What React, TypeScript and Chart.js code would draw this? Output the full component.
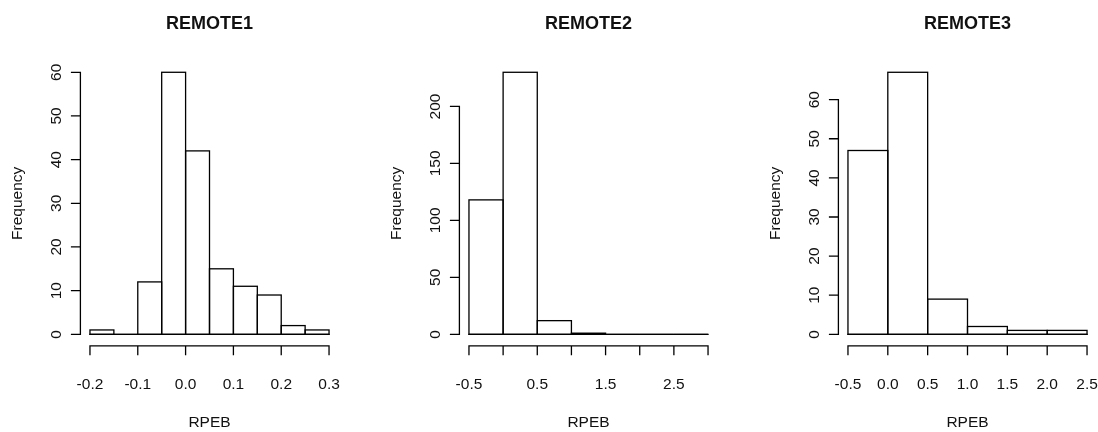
import { useEffect, useRef } from "react";
import { Chart, registerables } from "chart.js";

Chart.register(...registerables);

// REMOTE1 histogram
const remote1Breaks = [-0.2, -0.15, -0.1, -0.05, 0, 0.05, 0.1, 0.15, 0.2, 0.25, 0.3];
const remote1Counts = [1, 0, 12, 60, 42, 15, 11, 9, 2, 1];
const remote1XTicks = [-0.2, -0.1, 0, 0.1, 0.2, 0.3];
const remote1XLabels = ["-0.2", "-0.1", "0.0", "0.1", "0.2", "0.3"];
const remote1YTicks = [0, 10, 20, 30, 40, 50, 60];

// REMOTE2 histogram
const remote2Breaks = [-0.5, 0, 0.5, 1, 1.5, 2, 2.5, 3];
const remote2Counts = [118, 230, 12, 1, 0, 0, 0];
const remote2XTicks = [-0.5, 0, 0.5, 1, 1.5, 2, 2.5, 3];
const remote2XLabels = ["-0.5", "", "0.5", "", "1.5", "", "2.5", ""];
const remote2YTicks = [0, 50, 100, 150, 200];

// REMOTE3 histogram
const remote3Breaks = [-0.5, 0, 0.5, 1, 1.5, 2, 2.5];
const remote3Counts = [47, 67, 9, 2, 1, 1];
const remote3XTicks = [-0.5, 0, 0.5, 1, 1.5, 2, 2.5];
const remote3XLabels = ["-0.5", "0.0", "0.5", "1.0", "1.5", "2.0", "2.5"];
const remote3YTicks = [0, 10, 20, 30, 40, 50, 60];

const xAxisTitle = "RPEB";
const yAxisTitle = "Frequency";

type Panel = {
  title: string;
  breaks: number[];
  counts: number[];
  xTicks: number[];
  xLabels: string[];
  yTicks: number[];
};

const panels: Panel[] = [
  { title: "REMOTE1", breaks: remote1Breaks, counts: remote1Counts, xTicks: remote1XTicks, xLabels: remote1XLabels, yTicks: remote1YTicks },
  { title: "REMOTE2", breaks: remote2Breaks, counts: remote2Counts, xTicks: remote2XTicks, xLabels: remote2XLabels, yTicks: remote2YTicks },
  { title: "REMOTE3", breaks: remote3Breaks, counts: remote3Counts, xTicks: remote3XTicks, xLabels: remote3XLabels, yTicks: remote3YTicks },
];

// figure region of each panel and the margins around its plot region
const FIG_W = 379;
const FIG_H = 432;
const MARGIN = { left: 80.4, right: 40.4, top: 61.8, bottom: 87.2 };
const TICK_LEN = 9.5;
const LINE_W = 1.3;
const FONT = "'Liberation Sans', Arial, Helvetica, sans-serif";
const TEXT_SIZE = 15.5;
const CAP = 0.72;
const INK = "#111";

// base-graphics style: outlined bins with shared edges, axes spanning first..last tick,
// y labels rotated parallel to the axis
function baseAxes(panel: Panel) {
  return {
    id: "baseAxes",
    afterDatasetsDraw(chart: Chart) {
      const { ctx, chartArea: a } = chart;
      const xs = chart.scales.x;
      const ys = chart.scales.y;
      ctx.save();
      ctx.strokeStyle = "#000";
      ctx.lineWidth = LINE_W;
      ctx.lineCap = "butt";
      ctx.lineJoin = "miter";

      // bin outlines, stroked centred on each bar element's edges
      const meta = chart.getDatasetMeta(0);
      meta.data.forEach((el: any) => {
        const { x, y, base, width } = el.getProps(["x", "y", "base", "width"], true);
        ctx.strokeRect(x - width / 2, y, width, base - y);
      });

      // baseline under the bars (empty bins show as a flat line)
      const y0 = ys.getPixelForValue(0);
      ctx.beginPath();
      ctx.moveTo(xs.getPixelForValue(panel.breaks[0]) - LINE_W / 2, y0);
      ctx.lineTo(xs.getPixelForValue(panel.breaks[panel.breaks.length - 1]) + LINE_W / 2, y0);
      ctx.stroke();

      // x axis
      const ax = a.bottom + 1;
      ctx.beginPath();
      ctx.moveTo(xs.getPixelForValue(panel.xTicks[0]) - LINE_W / 2, ax);
      ctx.lineTo(xs.getPixelForValue(panel.xTicks[panel.xTicks.length - 1]) + LINE_W / 2, ax);
      panel.xTicks.forEach((t) => {
        const px = xs.getPixelForValue(t);
        ctx.moveTo(px, ax);
        ctx.lineTo(px, ax + TICK_LEN);
      });
      ctx.stroke();

      ctx.fillStyle = INK;
      ctx.font = `${TEXT_SIZE}px ${FONT}`;
      ctx.textAlign = "center";
      ctx.textBaseline = "alphabetic";
      panel.xTicks.forEach((t, i) => {
        const lab = panel.xLabels[i];
        if (!lab) return;
        ctx.fillText(lab, xs.getPixelForValue(t), ax + 38 + (CAP * TEXT_SIZE) / 2);
      });

      // y axis
      const ay = a.left;
      ctx.beginPath();
      ctx.moveTo(ay, ys.getPixelForValue(panel.yTicks[0]) + LINE_W / 2);
      ctx.lineTo(ay, ys.getPixelForValue(panel.yTicks[panel.yTicks.length - 1]) - LINE_W / 2);
      panel.yTicks.forEach((t) => {
        const py = ys.getPixelForValue(t);
        ctx.moveTo(ay, py);
        ctx.lineTo(ay - TICK_LEN, py);
      });
      ctx.stroke();

      panel.yTicks.forEach((t) => {
        ctx.save();
        ctx.translate(ay - 25 + (CAP * TEXT_SIZE) / 2, ys.getPixelForValue(t));
        ctx.rotate(-Math.PI / 2);
        ctx.fillText(String(t), 0, 0);
        ctx.restore();
      });

      // axis titles
      ctx.fillText(xAxisTitle, (a.left + a.right) / 2, 421 + (CAP * TEXT_SIZE) / 2);
      ctx.save();
      ctx.translate(ay - 62 + 4, (a.top + a.bottom) / 2);
      ctx.rotate(-Math.PI / 2);
      ctx.fillText(yAxisTitle, 0, 0);
      ctx.restore();

      // main title
      ctx.font = `bold 18px ${FONT}`;
      ctx.fillText(panel.title, (a.left + a.right) / 2, 22.5 + (CAP * 18) / 2);
      ctx.restore();
    },
  };
}

function HistPanel({ panel, left }: { panel: Panel; left: number }) {
  const ref = useRef<HTMLCanvasElement>(null);

  useEffect(() => {
    const canvas = ref.current;
    if (!canvas) return;
    const { breaks, counts } = panel;
    const span = breaks[breaks.length - 1] - breaks[0];
    const peak = Math.max(...counts);
    const chart = new Chart(canvas, {
      type: "bar",
      data: {
        datasets: [
          {
            data: counts.map((c, i) => ({ x: (breaks[i] + breaks[i + 1]) / 2, y: c })),
            backgroundColor: "#fff",
            borderWidth: 0,
            inflateAmount: 0,
            barPercentage: 1,
            categoryPercentage: 1,
          },
        ],
      },
      options: {
        responsive: false,
        animation: false,
        devicePixelRatio: 1,
        events: [],
        layout: { padding: MARGIN },
        scales: {
          x: {
            type: "linear",
            display: false,
            offset: false,
            min: breaks[0] - 0.04 * span,
            max: breaks[breaks.length - 1] + 0.04 * span,
          },
          y: {
            type: "linear",
            display: false,
            beginAtZero: false,
            min: -0.04 * peak,
            max: 1.04 * peak,
          },
        },
        plugins: {
          legend: { display: false },
          tooltip: { enabled: false },
          title: { display: false },
        },
      },
      plugins: [baseAxes(panel)],
    } as any);
    return () => chart.destroy();
  }, [panel]);

  return (
    <canvas
      ref={ref}
      width={FIG_W}
      height={FIG_H}
      style={{ position: "absolute", left, top: 0, width: FIG_W, height: FIG_H }}
    />
  );
}

export default function App() {
  return (
    <div
      style={{
        position: "absolute",
        left: 0,
        top: 0,
        width: 1098,
        height: 432,
        overflow: "hidden",
        background: "#fff",
      }}
    >
      {panels.map((p, i) => (
        <HistPanel key={p.title} panel={p} left={i * FIG_W} />
      ))}
    </div>
  );
}
